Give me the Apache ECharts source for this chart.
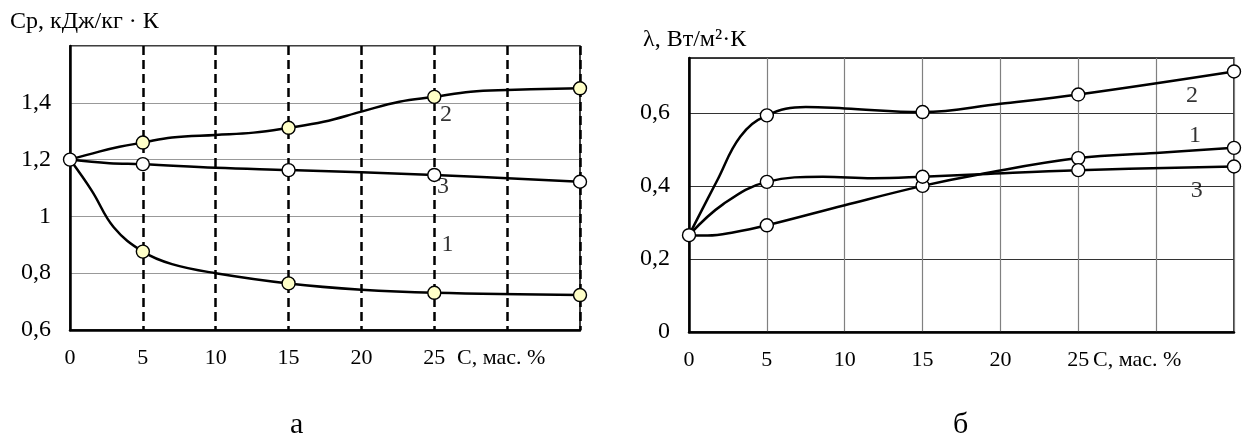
<!DOCTYPE html>
<html><head><meta charset="utf-8">
<script src="https://cdn.jsdelivr.net/npm/echarts@6/dist/echarts.min.js"></script>
<style>html,body{margin:0;padding:0;background:#fff}#c{width:1253px;height:446px}</style>
</head><body><div id="c"></div>
<script>
// ---------- Chart а : Cp vs C ----------
const xTicks = [0, 5, 10, 15, 20, 25, 30, 35];
const curveA1 = [[0,1.2],[1.5,1.09],[3,0.962],[5,0.876],[7,0.832],[10,0.80],[15,0.764],[20,0.742],[25,0.731],[35,0.723]];
const curveA2 = [[0,1.2],[2,1.228],[3.4,1.245],[5,1.26],[7,1.278],[10,1.287],[12.6,1.295],[15,1.312],[17.4,1.333],[20,1.369],[22.6,1.404],[25,1.421],[27.5,1.439],[30,1.445],[35,1.451]];
const curveA3 = [[0,1.2],[2.7,1.187],[5,1.184],[10,1.171],[15,1.163],[25,1.146],[35,1.122]];
const startA = [[0,1.2]];
const markA1 = [[5,0.876],[15,0.764],[25,0.731],[35,0.723]];
const markA2 = [[5,1.26],[15,1.312],[25,1.421],[35,1.451]];
const markA3 = [[5,1.184],[15,1.163],[25,1.146],[35,1.122]];
const labelsA = [['1',25.9,0.9],['2',25.8,1.357],['3',25.6,1.105]];

// ---------- Chart б : lambda vs C ----------
const curveB1 = [[0,0.265],[1.2,0.264],[2.9,0.273],[5,0.292],[10,0.347],[15,0.40],[18.7,0.432],[25,0.476],[30,0.49],[35,0.504]];
const curveB2 = [[0,0.265],[1.8,0.414],[3.3,0.535],[5,0.593],[7.5,0.616],[10,0.612],[15,0.602],[20,0.625],[25,0.65],[35,0.713]];
const curveB3 = [[0,0.265],[2.2,0.35],[5,0.411],[8.6,0.425],[11.8,0.421],[15,0.425],[18.7,0.432],[25,0.443],[35,0.453]];
const startB = [[0,0.265]];
const markB1 = [[5,0.292],[15,0.40],[25,0.476],[35,0.504]];
const markB2 = [[5,0.593],[15,0.602],[25,0.65],[35,0.713]];
const markB3 = [[5,0.411],[15,0.425],[25,0.443],[35,0.453]];
const labelsB = [['2',32.3,0.646],['1',32.5,0.537],['3',32.6,0.387]];

const xAxisTitle = 'С, мас. %';
const yTitleA = 'Ср, кДж/кг · К';
const yTitleB = 'λ, Вт/м²·К';
const captions = ['а', 'б'];

const FONT = 'Liberation Serif';
const FS = 24;
const FSX = 22;
const YELLOW = '#FFFFC8';

function fmtNum(v){
  if (Math.abs(v) < 1e-9) return '0';
  if (Math.abs(v - Math.round(v)) < 1e-9) return String(Math.round(v));
  return v.toFixed(1).replace('.', ',');
}

function lineSeries(data, xi){
  return {type:'line', xAxisIndex:xi, yAxisIndex:xi, data:data, showSymbol:false, symbol:'none',
    smooth:0.4, lineStyle:{color:'#000', width:2.5}, z:3, silent:true};
}
function markSeries(data, xi, fill){
  return {type:'scatter', xAxisIndex:xi, yAxisIndex:xi, data:data, symbol:'circle', symbolSize:13,
    itemStyle:{color:fill, borderColor:'#000', borderWidth:1.4, opacity:1}, z:5, silent:true};
}
function labelSeries(arr, xi){
  return {type:'scatter', xAxisIndex:xi, yAxisIndex:xi, symbolSize:0, z:6, silent:true,
    data: arr.map(a => ({name:a[0], value:[a[1], a[2]]})),
    label:{show:true, position:'inside', formatter:p => p.name, fontFamily:FONT, fontSize:FS, color:'#000'}};
}
function xAxisDef(gi, splitStyle, shift){
  return {type:'value', gridIndex:gi, min:0, max:35, interval:5,
    axisLine:{show:true, onZero:false, lineStyle:{color:'#000', width:2.5}},
    axisTick:{show:false},
    axisLabel:{margin:17, fontFamily:FONT, fontSize:FSX, color:'#000', showMaxLabel:true,
      formatter: v => v === 30 ? '{t|' + xAxisTitle + '}' : (v === 35 ? '' : String(v)),
      rich:{t:{fontFamily:FONT, fontSize:FSX, color:'#000', padding:[0, shift, 0, 0]}}},
    splitLine:{show:true, showMinLine:false, lineStyle:splitStyle}};
}
function yAxisDef(gi, min, max, splitStyle){
  return {type:'value', gridIndex:gi, min:min, max:max, interval:0.2,
    axisLine:{show:true, onZero:false, lineStyle:{color:'#000', width:2.5}},
    axisTick:{show:false},
    axisLabel:{margin:19, fontFamily:FONT, fontSize:FS, color:'#000', showMaxLabel:false, formatter:fmtNum},
    splitLine:{show:true, showMinLine:false, lineStyle:splitStyle}};
}

const option = {
  animation:false,
  backgroundColor:'#fff',
  grid:[
    {left:70, top:46, width:510, height:284, show:true, borderColor:'#000', borderWidth:1.5, backgroundColor:'transparent'},
    {left:689, top:58, width:545, height:274, show:true, borderColor:'#000', borderWidth:1.5, backgroundColor:'transparent'}
  ],
  xAxis:[
    xAxisDef(0, {color:'#000', width:2.5, type:[9,5]}, 12),
    xAxisDef(1, {color:'#808080', width:1.2, type:'solid'}, 38)
  ],
  yAxis:[
    yAxisDef(0, 0.6, 1.6, {color:'#999', width:1.2}),
    yAxisDef(1, 0, 0.75, {color:'#333', width:1.2})
  ],
  graphic:[
    {type:'text', left:10, top:10, style:{text:yTitleA, fontFamily:FONT, fontSize:FS, fill:'#000'}},
    {type:'text', left:643, top:28, style:{text:yTitleB, fontFamily:FONT, fontSize:FS, fill:'#000'}},
    {type:'text', left:290, top:410, style:{text:captions[0], fontFamily:FONT, fontSize:30, fill:'#000'}},
    {type:'text', left:953, top:410, style:{text:captions[1], fontFamily:FONT, fontSize:30, fill:'#000'}}
  ],
  series:[
    lineSeries(curveA1,0), lineSeries(curveA2,0), lineSeries(curveA3,0),
    markSeries(markA1,0,YELLOW), markSeries(markA2,0,YELLOW), markSeries(markA3,0,'#fff'), markSeries(startA,0,'#fff'),
    labelSeries(labelsA,0),
    lineSeries(curveB1,1), lineSeries(curveB2,1), lineSeries(curveB3,1),
    markSeries(markB1,1,'#fff'), markSeries(markB2,1,'#fff'), markSeries(markB3,1,'#fff'), markSeries(startB,1,'#fff'),
    labelSeries(labelsB,1)
  ]
};
const chart = echarts.init(document.getElementById('c'), null, {renderer:'canvas'});
chart.setOption(option);
</script>
</body></html>
